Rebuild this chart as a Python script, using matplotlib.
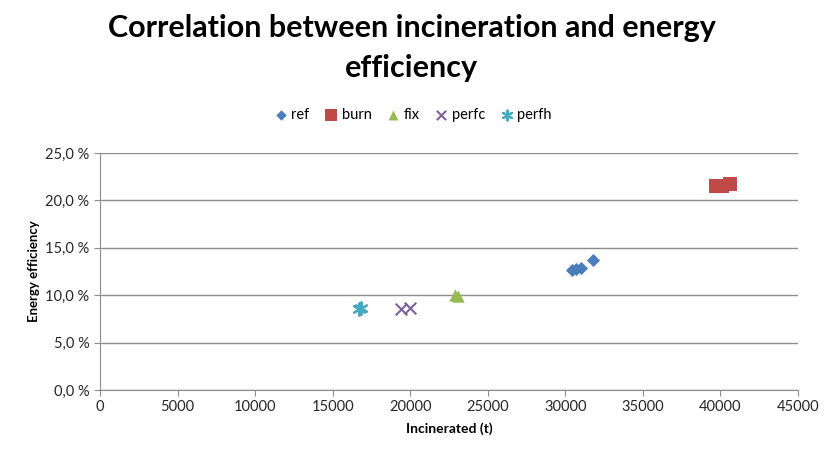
import matplotlib.pyplot as plt
from matplotlib.ticker import FuncFormatter, MultipleLocator

plt.rcParams['font.family'] = ['Lato', 'DejaVu Sans']

# incinerated tonnes vs energy efficiency (%) per scenario
ref_x = [30400, 30700, 31000, 31800]
ref_y = [12.7, 12.8, 12.9, 13.7]
burn_x = [39700, 40100, 40600]
burn_y = [21.5, 21.5, 21.7]
fix_x = [22900, 23100]
fix_y = [10.0, 9.9]
perfc_x = [19400, 20000]
perfc_y = [8.5, 8.7]
perfh_x = [16700, 16850]
perfh_y = [8.5, 8.6]

fig = plt.figure(figsize=(8.24, 4.55), dpi=100)
ax = fig.add_axes([100 / 824, 1 - 390 / 455, 698 / 824, 237 / 455])

ax.scatter(ref_x, ref_y, marker='D', s=45, color='#4a7ebb', label='ref', zorder=3, linewidths=0)
ax.scatter(burn_x, burn_y, marker='s', s=110, color='#be4b48', label='burn', zorder=3, linewidths=0)
ax.scatter(fix_x, fix_y, marker='^', s=80, color='#98b954', label='fix', zorder=3, linewidths=0)
ax.scatter(perfc_x, perfc_y, marker='x', s=70, color='#7d60a0', label='perfc', zorder=3, linewidths=1.5)
ax.scatter(perfh_x, perfh_y, marker=(6, 2, 0), s=80, color='#46aac5', label='perfh', zorder=3, linewidths=1.5)

ax.set_xlim(0, 45000)
ax.set_ylim(0, 25)
ax.xaxis.set_major_locator(MultipleLocator(5000))
ax.yaxis.set_major_locator(MultipleLocator(5))
ax.yaxis.set_major_formatter(FuncFormatter(lambda v, p: f'{v:.1f} %'.replace('.', ',')))
ax.grid(axis='y', color='#8c8c8c', linewidth=1)
ax.set_axisbelow(True)
for side in ['top', 'right']:
    ax.spines[side].set_visible(False)
for side in ['left', 'bottom']:
    ax.spines[side].set_color('#8c8c8c')
ax.tick_params(colors='#8c8c8c', labelcolor='#262626', labelsize=10.5, length=4)

ax.set_xlabel('Incinerated (t)', fontsize=10, fontweight='bold', labelpad=6)
ax.set_ylabel('Energy efficiency', fontsize=9.5, fontweight='bold', labelpad=4)

fig.text(0.5, 1 - 48 / 455, 'Correlation between incineration and energy\nefficiency',
         ha='center', va='center', fontsize=22, fontweight='bold', linespacing=1.5)

ax.legend(loc='center', bbox_to_anchor=(0.5, 1 - 115 / 455), bbox_transform=fig.transFigure,
          ncol=5, frameon=False, fontsize=10.5, handletextpad=0.1, columnspacing=0.9,
          handlelength=1.2, markerscale=0.8)

fig.savefig('out.png', dpi=100)
